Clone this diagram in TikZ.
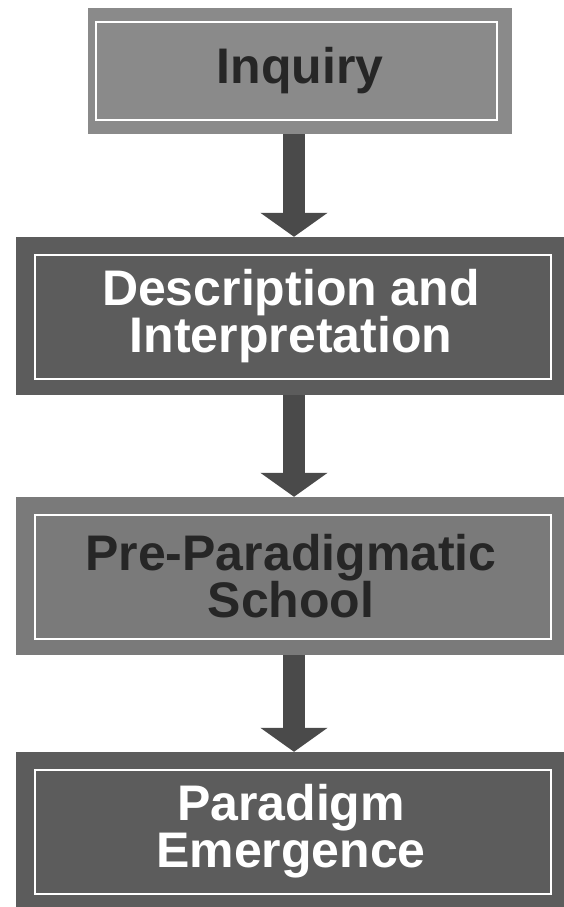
\documentclass[tikz,border=0pt]{standalone}
\usepackage{fontspec}
\setmainfont{Liberation Sans}
\usetikzlibrary{arrows.meta}
\definecolor{boxlight}{HTML}{8A8A8A}
\definecolor{boxmid}{HTML}{7A7A7A}
\definecolor{boxdark}{HTML}{5C5C5C}
\definecolor{arrowgray}{HTML}{4A4A4A}
\tikzset{
every picture/.style={x=1pt, y=-1pt},
stage/.style={draw=none, rectangle, align=center, inner sep=0pt,
  font=\fontsize{50}{47}\selectfont\bfseries},
flow/.style={draw=arrowgray, line width=22pt,
  -{Triangle[width=66pt, length=24pt]}}
}

\begin{document}
\begin{tikzpicture}
    \useasboundingbox (0,0) rectangle (563,907);
    \node[stage, fill=boxlight, text=black!85, minimum width=424pt, minimum height=126pt]
      (inquiry) at (300,71) {Inquiry};
    \node[stage, fill=boxdark, text=white, minimum width=550pt, minimum height=158pt]
      (descr) at (291,316) {Description and\\Interpretation};
    \node[stage, fill=boxmid, text=black!85, minimum width=550pt, minimum height=158pt]
      (preparad) at (291,576) {Pre-Paradigmatic\\School};
    \node[stage, fill=boxdark, text=white, minimum width=550pt, minimum height=158pt]
      (emerge) at (291,831) {Paradigm\\Emergence};
    % inner white frames
    \draw[white, line width=1.6pt] ([shift={(8,14)}]inquiry.north west)
      rectangle ([shift={(-15,-14)}]inquiry.south east);
    \foreach \b in {descr, preparad, emerge} {
      \draw[white, line width=1.6pt] ([shift={(19,18)}]\b.north west)
        rectangle ([shift={(-15,-16)}]\b.south east);
    }
    \coordinate (axis) at (294,0);
    \draw[flow] (inquiry.south -| axis) -- (descr.north -| axis);
    \draw[flow] (descr.south -| axis) -- (preparad.north -| axis);
    \draw[flow] (preparad.south -| axis) -- (emerge.north -| axis);
\end{tikzpicture}
\end{document}
